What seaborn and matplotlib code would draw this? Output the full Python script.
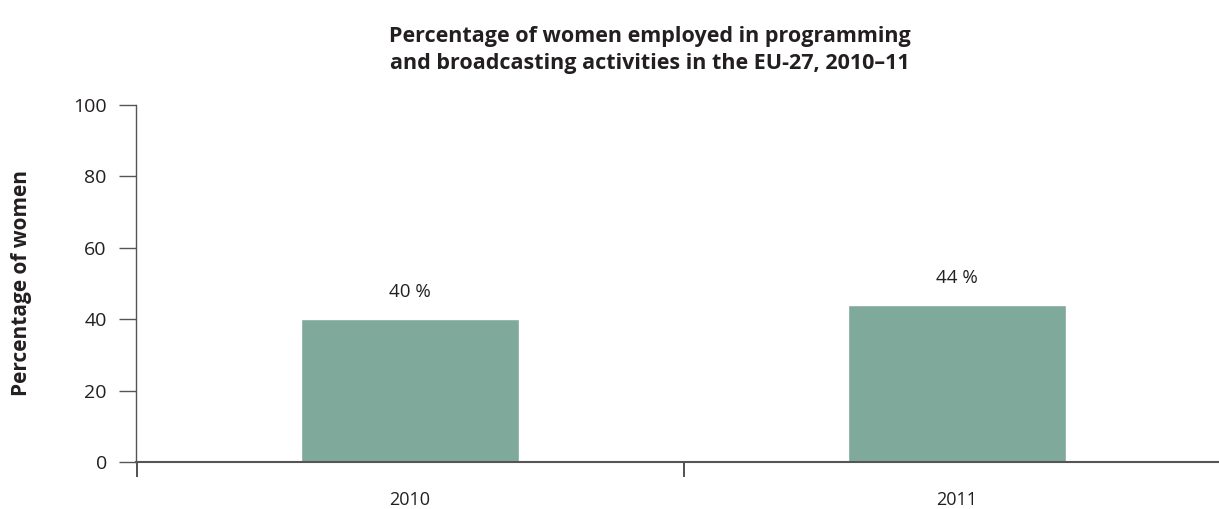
import matplotlib
matplotlib.use("Agg")
import matplotlib.pyplot as plt
import seaborn as sns
import pandas as pd

years = ["2010", "2011"]
values = [40, 44]
labels = ["40 %", "44 %"]
title = "Percentage of women employed in programming\nand broadcasting activities in the EU-27, 2010\u201311"
ylabel = "Percentage of women"
yticks = [0, 20, 40, 60, 80, 100]

sns.set_theme(style="white")
plt.rcParams['font.family'] = ['Open Sans', 'DejaVu Sans']
text_color = "#231f20"
line_color = "#555555"
bar_color = "#7faa9b"

df = pd.DataFrame({"year": years, "value": values})

fig = plt.figure(figsize=(12.19, 5.09), dpi=100)
ax = fig.add_axes([136/1219, 1-462/509, 1-136/1219, (462-105)/509])

sns.barplot(data=df, x="year", y="value", color=bar_color, width=0.4,
            saturation=1, ax=ax)

ax.set_yticks(yticks)
ax.set_yticklabels([str(t) for t in yticks], color=text_color, fontsize=14)
ax.tick_params(axis='y', length=12, width=1, color=line_color, direction='out', pad=9, left=True)

ax.set_xticks([0, 1])
ax.set_xticklabels(years, color=text_color, fontsize=13)
ax.tick_params(axis='x', which='major', length=0, pad=21)
ax.set_xticks([-0.5, 0.5], minor=True)
ax.tick_params(axis='x', which='minor', length=11, width=1.2, color="#333333", direction='out', bottom=True)

ax.set_ylim(0, 100)
ax.set_xlim(-0.501, 1.479)

for s in ["top", "right"]:
    ax.spines[s].set_visible(False)
ax.spines["left"].set_color(line_color)
ax.spines["left"].set_linewidth(1)
ax.spines["bottom"].set_color(line_color)
ax.spines["bottom"].set_linewidth(1.5)

ax.set_xlabel("")
ax.set_ylabel(ylabel, fontsize=15, fontweight='bold', color=text_color, labelpad=30)

ax.bar_label(ax.containers[0], labels=labels, padding=13, fontsize=13.5, color=text_color)

fig.text(650/1219, 1-50/509, title, ha='center', va='center', fontsize=15.5,
         fontweight='bold', color=text_color, linespacing=1.35)

fig.savefig("out.png", dpi=100)
